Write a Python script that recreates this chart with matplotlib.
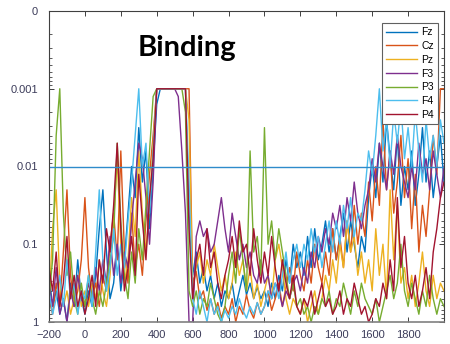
import numpy as np
import matplotlib.pyplot as plt
from matplotlib.ticker import FixedLocator, LogLocator, NullFormatter

# time axis (ms), one sample every 20 ms
t = np.arange(-200, 2001, 20)

# -log10(p) per channel, clipped at 3 (p = 0.001)
fz = [0.6, 0.2, 0.4, 0.1, 0.3, 0.0, 0.5, 0.2, 0.8, 0.3,
      0.1, 0.4, 0.2, 0.6, 1.2, 1.7, 0.9, 0.3, 0.5, 1.0,
      0.4, 0.8, 1.4, 2.0, 1.6, 2.5, 1.8, 2.2, 1.2, 2.0,
      2.8, 3.0, 3.0, 3.0, 3.0, 3.0, 3.0, 3.0, 3.0, 1.4,
      0.6, 0.9, 0.5, 0.7, 0.4, 0.6, 0.3, 0.5, 0.2, 0.4,
      0.3, 0.5, 0.2, 0.4, 0.6, 0.35, 0.5, 0.3, 0.45, 0.3,
      0.4, 0.2, 0.5, 0.3, 0.6, 0.4, 0.8, 0.5, 1.0, 0.7,
      0.9, 0.6, 1.1, 0.7, 1.2, 0.8, 1.0, 1.3, 0.9, 1.2,
      0.8, 1.1, 1.4, 0.9, 1.3, 1.0, 0.7, 1.1, 0.9, 1.6,
      2.0, 1.6, 2.3, 1.8, 2.6, 2.1, 1.7, 2.4, 1.5, 2.0,
      1.7, 2.2, 1.5, 1.9, 2.5, 1.8, 2.2, 1.6, 2.0, 2.4,
      1.8]
cz = [0.3, 0.1, 0.5, 0.2, 0.9, 1.7, 0.6, 0.2, 0.4, 0.8,
      1.6, 0.7, 0.3, 0.5, 0.2, 0.6, 0.4, 1.0, 1.4, 0.8,
      2.2, 0.9, 0.5, 1.4, 0.7, 1.0, 0.6, 1.3, 1.9, 2.4,
      3.0, 3.0, 3.0, 3.0, 3.0, 3.0, 3.0, 3.0, 3.0, 3.0,
      0.5, 0.65, 0.3, 0.4, 0.15, 0.3, 0.1, 0.25, 0.05, 0.2,
      0.1, 0.3, 0.0, 0.2, 0.1, 0.35, 0.15, 0.05, 0.25, 0.1,
      0.2, 0.4, 0.15, 0.3, 0.5, 0.2, 0.45, 0.7, 0.4, 0.9,
      0.6, 0.4, 0.8, 0.5, 1.0, 0.7, 0.5, 0.9, 0.6, 1.2,
      0.8, 1.1, 0.7, 1.3, 0.9, 1.5, 1.0, 1.4, 1.1, 1.8,
      1.3, 2.0, 1.5, 2.6, 1.7, 2.2, 1.4, 1.8, 2.4, 1.6,
      2.1, 1.2, 1.9, 0.9, 1.5, 1.1, 1.7, 2.4, 1.9, 3.0,
      3.0]
pz = [0.2, 1.2, 1.7, 0.5, 0.2, 0.4, 0.1, 0.3, 0.6, 0.2,
      0.4, 0.2, 0.5, 0.3, 0.8, 0.4, 0.2, 0.6, 1.3, 2.1,
      1.0, 0.5, 0.8, 1.6, 1.1, 2.2, 1.4, 0.9, 1.5, 2.3,
      3.0, 3.0, 3.0, 3.0, 3.0, 3.0, 3.0, 3.0, 3.0, 2.6,
      0.4, 0.7, 0.9, 0.5, 0.8, 0.6, 1.0, 0.7, 0.4, 0.6,
      0.3, 0.5, 0.9, 0.6, 0.8, 0.4, 0.7, 0.3, 0.5, 0.2,
      0.4, 0.6, 0.3, 0.8, 1.0, 0.7, 0.3, 0.1, 0.3, 0.2,
      0.1, 0.3, 0.0, 0.2, 0.4, 0.1, 0.3, 0.6, 0.4, 0.8,
      0.5, 1.0, 0.7, 1.3, 0.9, 1.1, 0.6, 0.9, 0.5, 0.8,
      0.4, 1.2, 0.6, 1.0, 0.3, 1.7, 0.8, 1.5, 0.5, 0.7,
      0.3, 0.6, 0.2, 0.5, 0.9, 0.4, 0.2, 0.6, 0.3, 0.5,
      0.4]
f3 = [0.5, 0.2, 0.7, 0.1, 0.3, 0.0, 0.4, 0.2, 0.6, 0.3,
      0.2, 0.5, 0.3, 0.7, 0.4, 0.8, 0.5, 1.1, 0.6, 1.0,
      0.5, 0.9, 0.7, 1.3, 1.8, 2.3, 2.1, 1.6, 1.0, 1.8,
      3.0, 3.0, 3.0, 3.0, 3.0, 3.0, 2.9, 2.2, 1.4, 0.0,
      0.0, 1.1, 1.3, 1.1, 1.2, 0.9, 1.0, 1.3, 1.6, 1.2,
      0.9, 1.4, 1.1, 0.8, 1.0, 0.7, 0.9, 0.6, 0.5, 0.8,
      0.5, 0.6, 0.3, 0.5, 0.4, 0.2, 0.4, 0.3, 0.5, 0.6,
      0.4, 0.7, 0.5, 0.9, 0.7, 1.1, 0.9, 1.2, 1.0, 1.4,
      1.2, 1.5, 1.1, 1.6, 1.3, 1.8, 1.4, 1.2, 1.5, 1.7,
      2.1, 1.8, 2.3, 2.0, 1.7, 2.2, 1.9, 2.4, 2.0, 1.8,
      1.6, 2.0, 1.7, 2.3, 1.9, 2.1, 1.7, 2.2, 1.9, 1.6,
      2.0]
p3 = [0.3, 0.8, 2.4, 3.0, 1.4, 0.6, 0.9, 0.3, 0.1, 0.5,
      0.2, 0.6, 0.3, 0.1, 0.4, 0.2, 0.5, 0.8, 1.1, 2.3,
      1.3, 0.6, 0.3, 0.9, 0.5, 1.2, 0.8, 1.5, 2.2, 2.9,
      3.0, 3.0, 3.0, 3.0, 3.0, 3.0, 3.0, 3.0, 2.7, 0.4,
      0.2, 0.4, 0.1, 0.3, 0.2, 0.5, 0.3, 0.1, 0.0, 0.2,
      0.6, 0.9, 0.5, 1.2, 0.8, 0.4, 2.2, 0.9, 1.1, 0.6,
      2.5, 1.0, 1.3, 0.8, 1.2, 0.9, 0.6, 0.3, 0.5, 0.2,
      0.3, 0.1, 0.2, 0.0, 0.2, 0.1, 0.3, 0.2, 0.4, 0.1,
      0.3, 0.2, 0.5, 0.3, 0.1, 0.4, 0.2, 0.5, 0.3, 0.2,
      0.1, 0.3, 0.0, 0.2, 0.4, 0.6, 0.3, 0.5, 1.0, 0.4,
      0.2, 0.5, 0.3, 0.1, 0.4, 0.2, 0.6, 0.3, 0.1, 0.3,
      0.2]
f4 = [0.4, 0.1, 0.3, 0.6, 0.2, 0.8, 0.3, 0.5, 0.1, 0.4,
      0.3, 0.6, 0.2, 0.9, 1.7, 0.8, 0.4, 0.7, 1.2, 0.6,
      1.0, 0.7, 1.3, 1.8, 2.4, 3.0, 2.0, 2.3, 1.4, 2.2,
      3.0, 3.0, 3.0, 3.0, 3.0, 3.0, 3.0, 3.0, 3.0, 1.8,
      0.3, 0.1, 0.4, 0.2, 0.0, 0.3, 0.1, 0.2, 0.0, 0.15,
      0.05, 0.2, 0.1, 0.3, 0.15, 0.05, 0.2, 0.1, 0.25, 0.1,
      0.2, 0.4, 0.3, 0.5, 0.3, 0.6, 0.9, 0.5, 0.8, 1.0,
      0.7, 1.0, 0.8, 1.2, 0.9, 1.1, 0.7, 1.0, 1.3, 0.9,
      1.3, 1.0, 1.5, 1.2, 1.6, 1.1, 1.4, 1.3, 1.7, 2.2,
      1.9, 2.4, 3.0, 2.2, 2.6, 2.0, 2.7, 2.3, 2.8, 2.1,
      2.5, 2.0, 2.7, 2.2, 1.8, 2.6, 2.1, 2.4, 2.0, 2.6,
      2.3]
p4 = [0.7, 0.4, 0.9, 0.2, 0.5, 1.1, 0.3, 0.6, 0.2, 0.4,
      0.1, 0.3, 0.6, 0.2, 0.8, 0.5, 1.2, 0.9, 1.5, 2.3,
      1.2, 0.4, 0.7, 1.1, 0.6, 1.9, 1.3, 0.8, 1.6, 2.1,
      3.0, 3.0, 3.0, 3.0, 3.0, 3.0, 3.0, 3.0, 3.0, 1.2,
      0.3, 0.8, 1.0, 0.6, 1.2, 0.7, 0.9, 0.5, 0.3, 0.6,
      0.8, 1.1, 0.7, 1.3, 0.9, 1.0, 0.6, 1.2, 0.8, 0.5,
      0.9, 0.6, 1.1, 0.7, 0.4, 0.8, 0.5, 0.3, 0.6, 0.2,
      0.1, 0.3, 0.2, 0.4, 0.1, 0.3, 0.5, 0.2, 0.3, 0.1,
      0.2, 0.4, 0.1, 0.3, 0.2, 0.5, 0.3, 0.1, 0.2, 0.0,
      0.1, 0.3, 0.2, 0.5, 0.3, 0.8, 0.4, 1.6, 0.7, 1.1,
      0.5, 0.3, 0.6, 0.2, 0.4, 0.7, 0.3, 0.9, 1.2, 1.6,
      1.8]

channels = ["Fz", "Cz", "Pz", "F3", "P3", "F4", "P4"]
series = [fz, cz, pz, f3, p3, f4, p4]
colors = ["#0072BD", "#D95319", "#EDB120", "#7E2F8E",
          "#77AC30", "#4DBEEE", "#A2142F"]

ALPHA = 0.01
yticks = [1e-4, 1e-3, 1e-2, 1e-1, 1]
yticklabels = ["0", "0.001", "0.01", "0.1", "1"]
xticks = list(range(-200, 2000, 200))

plt.rcParams["font.family"] = ["Liberation Sans", "DejaVu Sans"]

fig = plt.figure(figsize=(4.5, 3.44), dpi=100)
ax = fig.add_axes([49 / 450, 1 - 322 / 344, 395 / 450, 311 / 344])

for name, vals, col in zip(channels, series, colors):
    p = 10.0 ** (-np.array(vals))
    ax.plot(t, p, color=col, lw=1.0, label=name)

ax.axhline(ALPHA, color="#2F8BCB", lw=1.0)

ax.set_yscale("log")
ax.set_ylim(1, 1e-4)
ax.set_xlim(-200, 2000)
ax.yaxis.set_major_locator(FixedLocator(yticks))
ax.set_yticklabels(yticklabels)
ax.yaxis.set_minor_locator(LogLocator(base=10, subs=np.arange(2, 10)))
ax.yaxis.set_minor_formatter(NullFormatter())
ax.set_xticks(xticks)

lab_col = "#3C3C5A"
ax.tick_params(which="both", direction="in", top=True, right=True,
               labelsize=8, labelcolor=lab_col, color="#404040")
ax.tick_params(which="major", length=3.5, width=0.7)
ax.tick_params(which="minor", length=2, width=0.6)
ax.tick_params(axis="y", pad=8)
ax.tick_params(axis="x", pad=6)
for s in ax.spines.values():
    s.set_color("#404040")
    s.set_linewidth(0.8)
ax.spines["bottom"].set_color("#808080")
ax.spines["bottom"].set_linewidth(1.2)

ax.text(0.349, 0.855, "Binding", transform=ax.transAxes, ha="center",
        va="baseline", fontsize=21, fontweight="bold",
        family=["Lato", "DejaVu Sans"])

leg = ax.legend(loc="upper right", bbox_to_anchor=(0.985, 0.961),
                borderaxespad=0, fontsize=7.5, handlelength=3.0,
                labelspacing=0.36, fancybox=False, framealpha=1,
                edgecolor="#606060", handletextpad=0.4)
leg.get_frame().set_linewidth(0.8)

fig.savefig("out.png", dpi=100)
